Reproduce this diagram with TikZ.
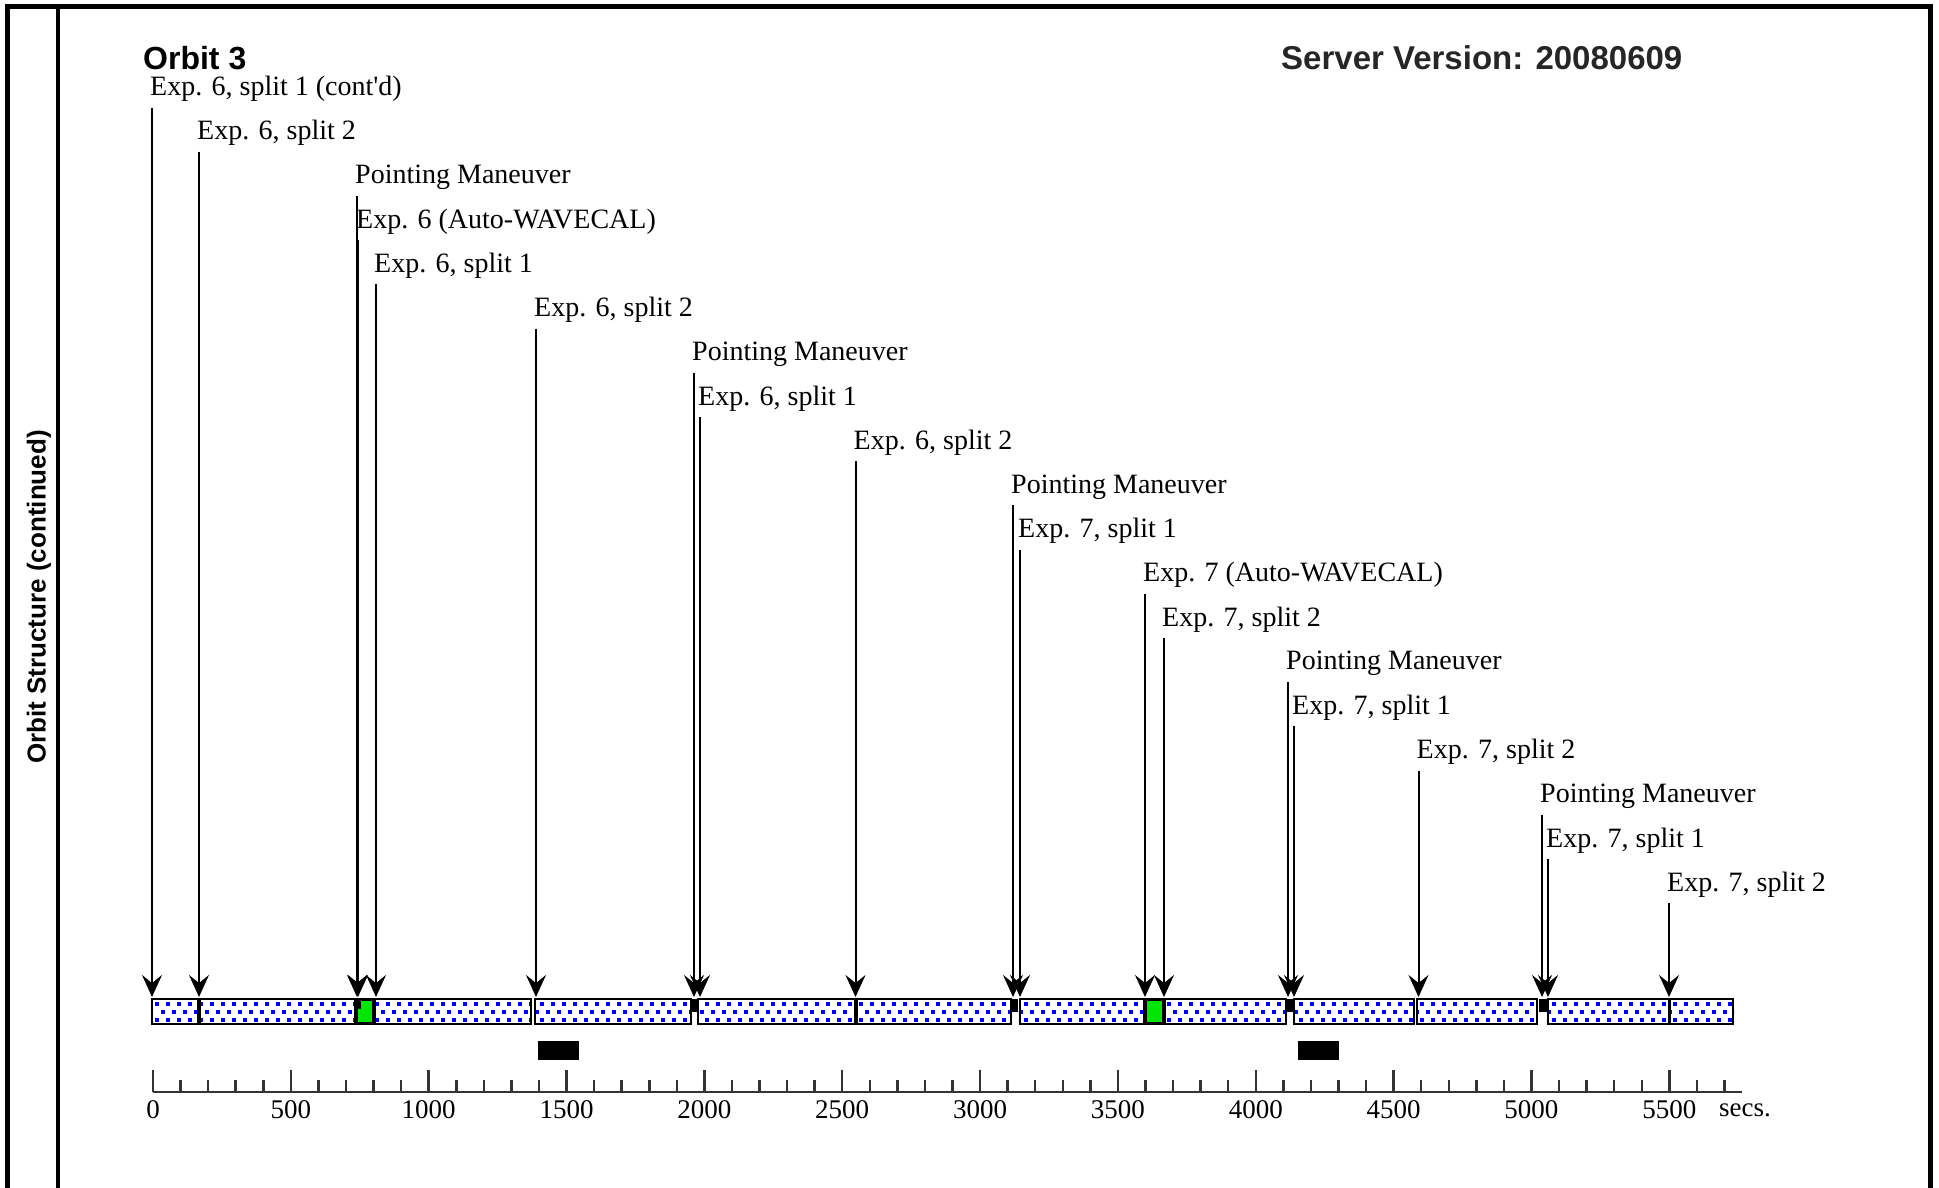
\documentclass[tikz,border=0pt]{standalone}
\usepackage{fontspec}
\setmainfont{Liberation Serif}
\newfontfamily\lblfont{Liberation Serif}
\newfontfamily\hsans{Liberation Sans}
\usetikzlibrary{arrows.meta}
\definecolor{dotblue}{RGB}{0,0,255}
\definecolor{wgreen}{RGB}{0,230,0}
\begin{document}
\begin{tikzpicture}[x=1pt,y=-1pt,
  lbl/.style={font=\lblfont\fontsize{28}{28}\selectfont, anchor=west, inner sep=0pt},
  evarrow/.style={line width=2pt, -{Stealth[length=22pt,width=20pt,inset=8pt]}},
  segbox/.style={draw=black, line width=2.5pt},
  axisline/.style={draw=black!80, line width=2.5pt},
  ticklbl/.style={font=\lblfont\fontsize{27}{27}\selectfont, inner sep=0pt},
  blk/.style={fill=black, minimum width=41pt, minimum height=19pt, inner sep=0pt},
  heading/.style={font=\hsans\bfseries\fontsize{32}{32}\selectfont, anchor=base west, inner sep=0pt}
]
\useasboundingbox (0,0) rectangle (1939,1187);
\fill[white] (0,0) rectangle (1939,1187);

% frame
\draw[line width=5pt] (7,1195) -- (7,6) -- (1930,6) -- (1930,1195);
\draw[line width=4pt] (58,6) -- (58,1195);
\node[rotate=90, font=\hsans\bfseries\fontsize{26}{26}\selectfont, inner sep=0pt] (side) at (39,597) {Orbit Structure (continued)};

% headings
\node[heading] (title) at (143,69) {Orbit 3};
\node[heading, text=black!85, font=\hsans\bfseries\fontsize{33}{33}\selectfont] (ver) at (1281,69) {Server Version: 20080609};

% dotted bar
\begin{scope}
\clip (152,999) rectangle (1734,1024);
\foreach \k in {0,...,143} {
  \fill[dotblue] ({155+11*\k},1001.5) rectangle ++(4,4);
  \fill[dotblue] ({160.5+11*\k},1009.5) rectangle ++(4,4);
  \fill[dotblue] ({155+11*\k},1017.5) rectangle ++(4,4);
}
\end{scope}
% gaps
\foreach \a/\b in {531/535, 691/698, 1011/1020, 1286/1294, 1414/1417, 1537/1548}
  \fill[white] (\a,996) rectangle (\b,1027);
% segments
\foreach \a/\b in {152/531, 535/691, 698/1011, 1020/1286, 1294/1414, 1417/1537, 1548/1733}
  \draw[segbox] (\a,999) rectangle (\b,1024);
% exposure dividers
\foreach \a/\b in {197/201, 854/857.5, 1667.5/1671}
  \fill[black] (\a,999) rectangle (\b,1024);
% auto-wavecal boxes
\fill[black] (354,999) rectangle (376,1024);
\fill[wgreen] (358,1009) rectangle (372,1022);
\fill[wgreen] (361,1001) rectangle (372,1009);
\fill[black] (1142.5,999) rectangle (1165.5,1024);
\fill[wgreen] (1146.5,1001) rectangle (1161.5,1022);
% pointing manoeuvre blocks
\foreach \a/\b in {691/698, 1010/1018, 1286/1294, 1539/1548}
  \fill[black] (\a,999) rectangle (\b,1012);

% occultation blocks
\node[blk] (occ1) at (558.5,1050.5) {};
\node[blk] (occ2) at (1318.5,1050.5) {};

% event labels and arrows
\foreach \x/\r/\t in {
  152/0/{Exp. 6, split 1 (cont'd)},
  199/1/{Exp. 6, split 2},
  357/2/{Pointing Maneuver},
  358/3/{Exp. 6 (Auto-WAVECAL)},
  376/4/{Exp. 6, split 1},
  536/5/{Exp. 6, split 2},
  694/6/{Pointing Maneuver},
  700/7/{Exp. 6, split 1},
  855.5/8/{Exp. 6, split 2},
  1013/9/{Pointing Maneuver},
  1020/10/{Exp. 7, split 1},
  1145/11/{Exp. 7 (Auto-WAVECAL)},
  1164/12/{Exp. 7, split 2},
  1288/13/{Pointing Maneuver},
  1294/14/{Exp. 7, split 1},
  1418.5/15/{Exp. 7, split 2},
  1542/16/{Pointing Maneuver},
  1548/17/{Exp. 7, split 1},
  1669/18/{Exp. 7, split 2}} {
  \node[lbl] (l\r) at ({\x-2},{89+44.2*\r}) {\t};
  \coordinate (a\r) at (\x,{89+44.2*\r+18.5});
  \coordinate (b\r) at (\x,997);
  \draw[evarrow] (a\r) -- (b\r);
}

% time axis
\draw[axisline] (153,1092) -- (1742,1092);
\foreach \v in {0,100,...,5700}
  \draw[axisline] ({153+0.2757*\v},1092) -- ++(0,-12);
\foreach \v in {0,500,...,5500} {
  \draw[axisline] ({153+0.2757*\v},1092) -- ++(0,-22);
  \node[ticklbl] (tk\v) at ({153+0.2757*\v},1110) {\v};
}
\node[ticklbl, anchor=west] (secs) at (1719,1110) {secs.};
\end{tikzpicture}
\end{document}
